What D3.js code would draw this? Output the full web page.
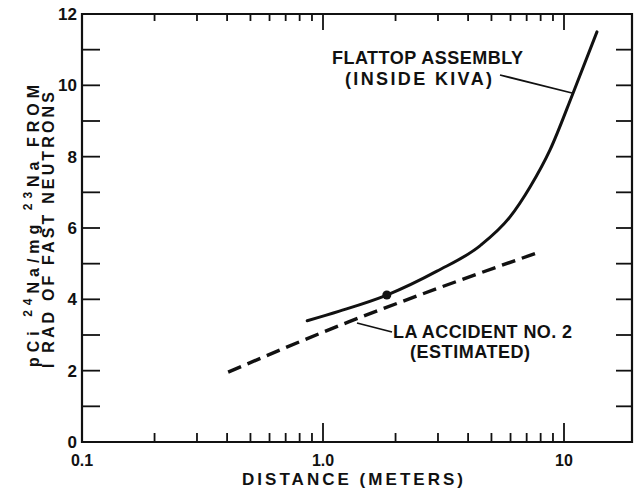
<!DOCTYPE html>
<html><head><meta charset="utf-8">
<script src="https://cdn.jsdelivr.net/npm/d3@7/dist/d3.min.js"></script>
<style>
html,body{margin:0;padding:0;background:#fff;}
svg{display:block;}
text{font-family:"Liberation Sans",Arial,sans-serif;font-weight:bold;fill:#111;}
</style></head>
<body>
<svg id="chart" width="634" height="489"></svg>
<script>
// ---- data ----
const flattopX = [0.86, 1.17, 1.84, 2.97, 4.48, 5.97, 7.23, 8.75, 10.9, 13.7];
const flattopY = [3.40, 3.67, 4.12, 4.79, 5.50, 6.31, 7.15, 8.19, 9.78, 11.5];
const accidentX = [0.404, 1.27, 2.97, 7.94];
const accidentY = [1.96, 3.36, 4.30, 5.33];
const markerX = [1.84];
const markerY = [4.12];
const xTickValues = [0.1, 1, 10];
const xTickLabels = ["0.1", "1.0", "10"];
const xMinorValues = [0.2,0.3,0.4,0.5,0.6,0.7,0.8,0.9,2,3,4,5,6,7,8,9];
const yTickValues = [0, 2, 4, 6, 8, 10, 12];
const yTickLabels = ["0", "2", "4", "6", "8", "10", "12"];
const yMinorValues = [1, 3, 5, 7, 9, 11];

// ---- layout ----
const pL = 82, pT = 14, pB = 442, pR = 632;
const svg = d3.select("#chart");
const x = d3.scaleLog().domain([0.1, 10]).range([pL, 564]);
const y = d3.scaleLinear().domain([0, 12]).range([pB, pT]);

const ink = "#111";
const g = svg.append("g");

// frame
g.append("path")
  .attr("d", `M${pL},${pT}H${pR}V${pB}H${pL}Z`)
  .attr("fill", "none").attr("stroke", ink).attr("stroke-width", 2.2);

// bottom ticks (inward)
const xAll = xTickValues.map(v => ({v, major: true})).concat(xMinorValues.map(v => ({v, major: false})));
g.selectAll(".xb").data(xAll).enter().append("line")
  .attr("x1", d => x(d.v)).attr("x2", d => x(d.v))
  .attr("y1", pB).attr("y2", d => pB - (d.major ? 19 : 9))
  .attr("stroke", ink).attr("stroke-width", 1.8);
// top ticks (inward)
g.selectAll(".xt").data(xAll).enter().append("line")
  .attr("x1", d => x(d.v)).attr("x2", d => x(d.v))
  .attr("y1", pT).attr("y2", d => pT + (d.major ? 16 : 7))
  .attr("stroke", ink).attr("stroke-width", 1.8);

// left & right ticks
const yAll = yTickValues.concat(yMinorValues).filter(v => v > 0 && v < 12);
g.selectAll(".yl").data(yAll).enter().append("line")
  .attr("x1", pL).attr("x2", pL + 18)
  .attr("y1", d => y(d)).attr("y2", d => y(d))
  .attr("stroke", ink).attr("stroke-width", 1.8);
g.selectAll(".yr").data(yAll).enter().append("line")
  .attr("x1", pR).attr("x2", pR - 16)
  .attr("y1", d => y(d)).attr("y2", d => y(d))
  .attr("stroke", ink).attr("stroke-width", 1.8);

// tick labels
g.selectAll(".xlab").data(xTickValues).enter().append("text")
  .attr("x", d => x(d)).attr("y", 466)
  .attr("text-anchor", "middle").attr("font-size", 16)
  .text((d, i) => xTickLabels[i]);
g.selectAll(".ylab").data(yTickValues).enter().append("text")
  .attr("x", 77).attr("y", d => y(d)).attr("dy", "0.36em")
  .attr("text-anchor", "end").attr("font-size", 17)
  .text((d, i) => yTickLabels[i]);

// axis titles
g.append("text").attr("x", 242).attr("y", 485).attr("font-size", 17)
  .attr("textLength", 221).attr("lengthAdjust", "spacing")
  .text("DISTANCE (METERS)");

const yt1 = g.append("text").attr("transform", "translate(39,367) rotate(-90)")
  .attr("font-size", 16).attr("textLength", 282).attr("lengthAdjust", "spacing");
yt1.append("tspan").text("pCi ");
yt1.append("tspan").attr("font-size", 12).attr("dy", -7).text("24");
yt1.append("tspan").attr("dy", 7).text("Na/mg ");
yt1.append("tspan").attr("font-size", 12).attr("dy", -7).text("23");
yt1.append("tspan").attr("dy", 7).text("Na  FROM");

g.append("text").attr("transform", "translate(54,368) rotate(-90)")
  .attr("font-size", 16).attr("textLength", 276).attr("lengthAdjust", "spacing")
  .text("I RAD OF FAST NEUTRONS");

// curves
const line = d3.line().x(d => x(d[0])).y(d => y(d[1])).curve(d3.curveMonotoneX);
g.append("path").datum(flattopX.map((v, i) => [v, flattopY[i]]))
  .attr("d", line).attr("fill", "none").attr("stroke", ink).attr("stroke-width", 3)
  .attr("stroke-linecap", "round");
g.append("path").datum(accidentX.map((v, i) => [v, accidentY[i]]))
  .attr("d", line).attr("fill", "none").attr("stroke", ink).attr("stroke-width", 3.4)
  .attr("stroke-dasharray", "14,7");
g.selectAll(".pt").data(markerX).enter().append("circle")
  .attr("cx", d => x(d)).attr("cy", (d, i) => y(markerY[i])).attr("r", 4.5).attr("fill", ink);

// annotations
g.append("text").attr("x", 332).attr("y", 64).attr("font-size", 18)
  .attr("textLength", 191).attr("lengthAdjust", "spacing").text("FLATTOP ASSEMBLY");
g.append("text").attr("x", 345).attr("y", 85).attr("font-size", 18)
  .attr("textLength", 147).attr("lengthAdjust", "spacing").text("(INSIDE KIVA)");
g.append("line").attr("x1", 500).attr("y1", 75).attr("x2", 572).attr("y2", 93)
  .attr("stroke", ink).attr("stroke-width", 1.8);

g.append("text").attr("x", 393).attr("y", 338).attr("font-size", 18)
  .attr("textLength", 179).attr("lengthAdjust", "spacing").text("LA ACCIDENT NO. 2");
g.append("text").attr("x", 410).attr("y", 358).attr("font-size", 18)
  .attr("textLength", 120).attr("lengthAdjust", "spacing").text("(ESTIMATED)");
g.append("line").attr("x1", 357).attr("y1", 323).attr("x2", 392).attr("y2", 332)
  .attr("stroke", ink).attr("stroke-width", 1.8);
</script>
</body></html>
